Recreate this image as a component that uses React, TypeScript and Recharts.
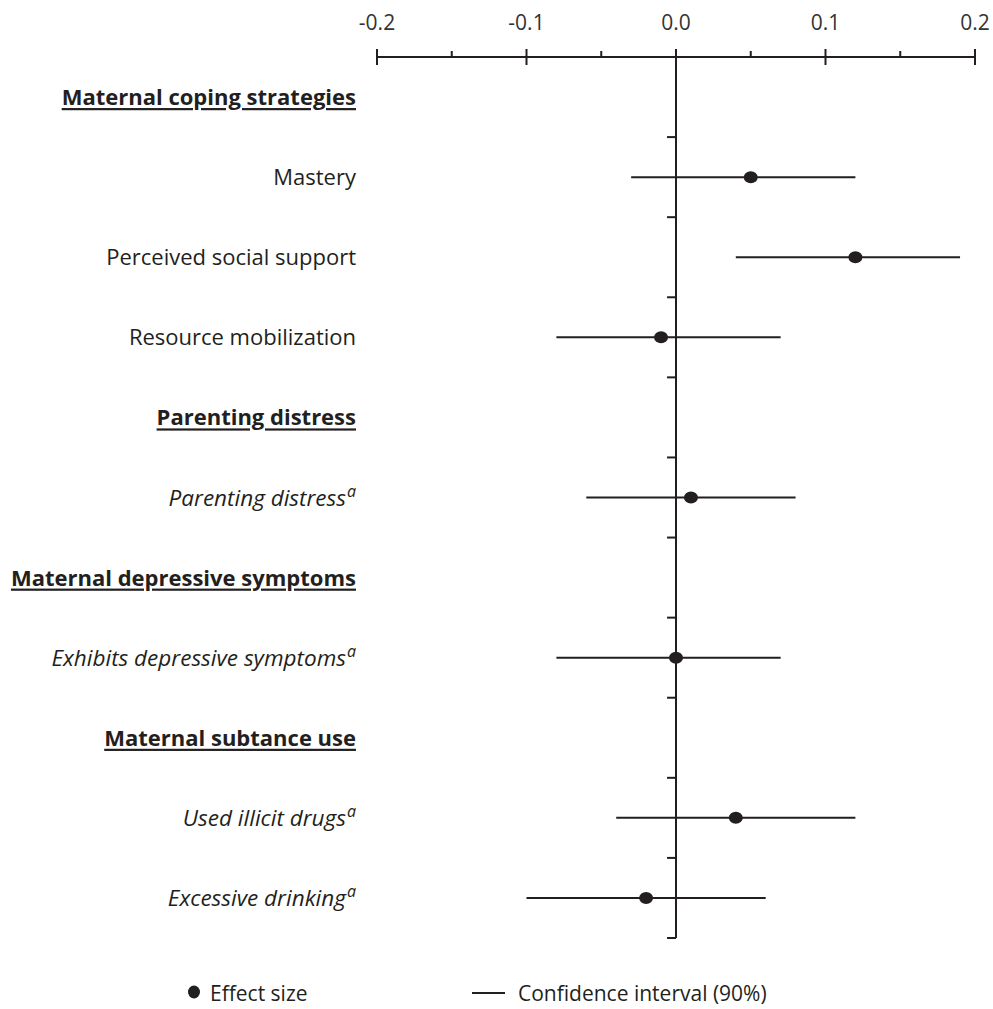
import {
  ScatterChart,
  Scatter,
  XAxis,
  YAxis,
  ErrorBar,
  ReferenceLine,
  Legend,
} from "recharts";

const INK = "#231f20";
const FONT = "'Open Sans', 'Noto Sans', sans-serif";

// rows from top to bottom: section headings and the measures under them
const rowLabels = [
  "Maternal coping strategies",
  "Mastery",
  "Perceived social support",
  "Resource mobilization",
  "Parenting distress",
  "Parenting distress",
  "Maternal depressive symptoms",
  "Exhibits depressive symptoms",
  "Maternal subtance use",
  "Used illicit drugs",
  "Excessive drinking",
];
// heading = bold underlined, scale = plain, binary = italic with footnote "a"
const rowKinds = [
  "heading",
  "scale",
  "scale",
  "scale",
  "heading",
  "binary",
  "heading",
  "binary",
  "heading",
  "binary",
  "binary",
];
const rowIndex = rowLabels.map((_, i) => i);

// rows that carry an estimate
const measureRows = [1, 2, 3, 5, 7, 9, 10];
const effectSize = [0.05, 0.12, -0.01, 0.01, 0.0, 0.04, -0.02];
const ciLow = [-0.03, 0.04, -0.08, -0.06, -0.08, -0.04, -0.1];
const ciHigh = [0.12, 0.19, 0.07, 0.08, 0.07, 0.12, 0.06];

const majorTicks = [-0.2, -0.1, 0, 0.1, 0.2];
const minorTicks = [-0.15, -0.05, 0.05, 0.15];
const spineTicks = [0.5, 1.5, 2.5, 3.5, 4.5, 5.5, 6.5, 7.5, 8.5, 9.5, 10.5];

const points = measureRows.map((row, i) => ({
  row,
  est: effectSize[i],
  ci: [effectSize[i] - ciLow[i], ciHigh[i] - effectSize[i]],
}));

function TopTick(props: any) {
  const { x, y, payload } = props;
  const v = payload.value as number;
  const major = majorTicks.some((m) => Math.abs(m - v) < 1e-9);
  if (!major) {
    return (
      <line x1={x} x2={x} y1={y - 6} y2={y} stroke={INK} strokeWidth={2} />
    );
  }
  return (
    <g>
      <line x1={x} x2={x} y1={y - 8} y2={y + 8} stroke={INK} strokeWidth={2} />
      <text
        x={x}
        y={y - 35}
        textAnchor="middle"
        dominantBaseline="central"
        fontFamily={FONT}
        fontSize={21}
        fill="#333"
      >
        {v.toFixed(1)}
      </text>
    </g>
  );
}

function RowLabel(props: any) {
  const { x, y, payload } = props;
  const i = payload.value as number;
  const kind = rowKinds[i];
  const common = {
    x: x - 21,
    y: y - 1,
    textAnchor: "end" as const,
    dominantBaseline: "central" as const,
    fontFamily: FONT,
    fill: INK,
  };
  if (kind === "heading") {
    return (
      <text {...common} fontSize={22} fontWeight={700} textDecoration="underline">
        {rowLabels[i]}
      </text>
    );
  }
  if (kind === "binary") {
    return (
      <text {...common} fontSize={22.5} fontStyle="italic">
        <tspan>{rowLabels[i]}</tspan>
        <tspan dx={1} dy={-6} fontSize={16}>
          a
        </tspan>
      </text>
    );
  }
  return (
    <text {...common} fontSize={22}>
      {rowLabels[i]}
    </text>
  );
}

function LegendBox() {
  return (
    <div style={{ position: "relative", height: 71 }}>
      <svg
        width={993}
        height={71}
        style={{ position: "absolute", left: 0, top: 0 }}
      >
        <ellipse cx={194} cy={54} rx={6} ry={6.5} fill={INK} />
        <line x1={472} x2={505} y1={55} y2={55} stroke={INK} strokeWidth={2} />
        <text x={210} y={55} dominantBaseline="central" fontFamily={FONT} fontSize={21} fill={INK}>
          Effect size
        </text>
        <text x={518} y={55} dominantBaseline="central" fontFamily={FONT} fontSize={21} fill={INK}>
          Confidence interval (90%)
        </text>
      </svg>
    </div>
  );
}

export default function App() {
  return (
    <div style={{ position: "absolute", left: 0, top: 0, background: "#fff" }}>
      <ScatterChart
        width={993}
        height={1009}
        margin={{ top: 0, right: 18, bottom: 0, left: 0 }}
      >
        <XAxis
          type="number"
          dataKey="est"
          orientation="top"
          domain={[-0.2, 0.2]}
          ticks={[...majorTicks, ...minorTicks].sort((a, b) => a - b)}
          interval={0}
          height={57}
          tickSize={0}
          tickMargin={0}
          tickLine={false}
          axisLine={{ stroke: INK, strokeWidth: 2 }}
          tick={<TopTick />}
        />
        <YAxis
          type="number"
          dataKey="row"
          domain={[-0.5, 10.5]}
          reversed
          ticks={rowIndex}
          interval={0}
          width={377}
          tickSize={0}
          tickMargin={0}
          tickLine={false}
          axisLine={false}
          tick={<RowLabel />}
        />
        <ReferenceLine x={0} stroke={INK} strokeWidth={2} />
        {spineTicks.map((t) => (
          <ReferenceLine
            key={t}
            segment={[
              { x: -0.006, y: t },
              { x: 0, y: t },
            ]}
            stroke={INK}
            strokeWidth={2}
          />
        ))}
        <Scatter
          data={points}
          isAnimationActive={false}
          shape={(p: any) => (
            <ellipse cx={p.cx} cy={p.cy} rx={7} ry={6} fill={INK} />
          )}
        >
          <ErrorBar
            dataKey="ci"
            direction="x"
            width={0}
            stroke={INK}
            strokeWidth={2}
          />
        </Scatter>
        <Legend verticalAlign="bottom" content={<LegendBox />} />
      </ScatterChart>
    </div>
  );
}
